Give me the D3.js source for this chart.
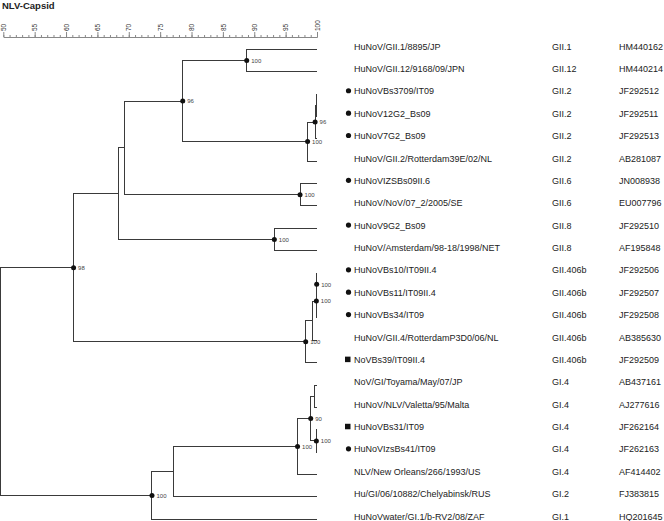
<!DOCTYPE html>
<html>
<head>
<meta charset="utf-8">
<script src="https://cdn.jsdelivr.net/npm/d3@7"></script>
<style>
  html, body { margin: 0; padding: 0; background: #fff; }
  svg { display: block; font-family: "Liberation Sans", Arial, Helvetica, sans-serif; }
</style>
</head>
<body>
<svg id="chart" width="664" height="521"></svg>
<script>
// ---------- data ----------
const title = "NLV-Capsid";
const scaleTicks = [50, 55, 60, 65, 70, 75, 80, 85, 90, 95, 100];

const leafNames = [
  "HuNoV/GII.1/8895/JP", "HuNoV/GII.12/9168/09/JPN", "HuNoVBs3709/IT09", "HuNoV12G2_Bs09",
  "HuNoV7G2_Bs09", "HuNoV/GII.2/Rotterdam39E/02/NL", "HuNoVIZSBs09II.6", "HuNoV/NoV/07_2/2005/SE",
  "HuNoV9G2_Bs09", "HuNoV/Amsterdam/98-18/1998/NET", "HuNoVBs10/IT09II.4", "HuNoVBs11/IT09II.4",
  "HuNoVBs34/IT09", "HuNoV/GII.4/RotterdamP3D0/06/NL", "NoVBs39/IT09II.4", "NoV/GI/Toyama/May/07/JP",
  "HuNoV/NLV/Valetta/95/Malta", "HuNoVBs31/IT09", "HuNoVIzsBs41/IT09", "NLV/New Orleans/266/1993/US",
  "Hu/GI/06/10882/Chelyabinsk/RUS", "HuNoVwater/GI.1/b-RV2/08/ZAF"
];
const genotypes = [
  "GII.1", "GII.12", "GII.2", "GII.2", "GII.2", "GII.2", "GII.6", "GII.6", "GII.8", "GII.8",
  "GII.406b", "GII.406b", "GII.406b", "GII.406b", "GII.406b",
  "GI.4", "GI.4", "GI.4", "GI.4", "GI.4", "GI.2", "GI.1"
];
const accessions = [
  "HM440162", "HM440214", "JF292512", "JF292511", "JF292513", "AB281087", "JN008938", "EU007796",
  "JF292510", "AF195848", "JF292506", "JF292507", "JF292508", "AB385630", "JF292509",
  "AB437161", "AJ277616", "JF262164", "JF262163", "AF414402", "FJ383815", "HQ201645"
];
const leafMarkers = [
  "", "", "circle", "circle", "circle", "", "circle", "", "circle", "", "circle", "circle",
  "circle", "", "square", "", "", "square", "circle", "", "", ""
];
const leafParents = [
  "N1", "N1", "D", "D", "N96b", "GII2", "GII6", "GII6", "GII8", "GII8", "E", "E",
  "F", "G", "GII4", "L", "L", "M", "M", "J", "I", "H"
];

// internal nodes of the dendrogram (similarity %, bootstrap support)
const nodeIds      = ["root", "A", "B", "C", "N96", "N1", "GII2", "N96b", "D", "GII6", "GII8",
                      "GII4", "G", "F", "E", "H", "I", "J", "K", "L", "M"];
const nodeParents  = ["", "root", "A", "B", "C", "N96", "N96", "GII2", "N96b", "C", "B",
                      "A", "GII4", "G", "F", "root", "H", "I", "J", "K", "K"];
const nodeSimilarity = [49.6, 61.2, 68.4, 69.3, 78.6, 88.8, 98.5, 99.7, 99.9, 97.3, 93.2,
                        98.2, 99.35, 99.9, 99.95, 73.7, 77.1, 96.9, 99.0, 99.55, 99.9];
const nodeSupport  = [null, 98, null, null, 96, 100, 100, 96, null, 100, 100,
                      100, null, 100, 100, 100, null, 100, 90, null, 100];

// ---------- build hierarchy ----------
const rows = nodeIds.map((id, i) => ({
  id, parent: nodeParents[i] || null, sim: nodeSimilarity[i], support: nodeSupport[i], leaf: false
})).concat(leafNames.map((name, i) => ({
  id: name, parent: leafParents[i], sim: 100, support: null, leaf: true,
  genotype: genotypes[i], accession: accessions[i], marker: leafMarkers[i]
})));

const root = d3.stratify().id(d => d.id).parentId(d => d.parent)(rows);

const svg = d3.select("#chart");
const x = d3.scaleLinear().domain([50, 100]).range([3.3, 317]);
const yLeaf = d3.scalePoint().domain(leafNames).range([49.3, 519.3]);

root.eachAfter(n => {
  if (!n.children) n.y = yLeaf(n.data.id);
  else n.y = (n.children[0].y + n.children[n.children.length - 1].y) / 2;
  n.px = x(n.data.sim);
});

// ---------- title ----------
svg.append("text").attr("x", 2).attr("y", 8.5)
  .attr("font-size", 9.5).attr("font-weight", "bold").attr("fill", "#222")
  .text(title);

// ---------- similarity scale ----------
const axisY = 37;
const minorAxis = svg.append("g").attr("transform", `translate(0,${axisY})`)
  .call(d3.axisTop(x).tickValues(d3.range(50, 101, 1)).tickSize(2).tickSizeOuter(0).tickFormat(""));
minorAxis.select(".domain").attr("stroke", "#888");
minorAxis.selectAll(".tick line").attr("stroke", "#888");

const majorAxis = svg.append("g").attr("transform", `translate(0,${axisY})`)
  .call(d3.axisTop(x).tickValues(scaleTicks).tickSize(5).tickSizeOuter(0));
majorAxis.select(".domain").attr("stroke", "#888");
majorAxis.selectAll(".tick line").attr("stroke", "#888");
majorAxis.selectAll(".tick text")
  .attr("transform", "rotate(-90)")
  .attr("x", 6).attr("y", 2.2).attr("dy", 0)
  .attr("text-anchor", "start")
  .attr("font-size", 6.5).attr("fill", "#333")
  .attr("font-family", "'Liberation Sans', Arial, sans-serif");

// ---------- branches ----------
svg.append("g")
  .attr("fill", "none").attr("stroke", "#3a3a3a").attr("stroke-width", 1)
  .attr("shape-rendering", "crispEdges")
  .selectAll("path")
  .data(root.links())
  .join("path")
  .attr("d", l => `M${l.source.px},${l.source.y}V${l.target.y}H${l.target.px}`);

// ---------- bootstrap nodes ----------
const supported = root.descendants().filter(n => n.data.support != null);
svg.append("g").selectAll("circle")
  .data(supported).join("circle")
  .attr("cx", n => n.px).attr("cy", n => n.y).attr("r", 2.5).attr("fill", "#111");
svg.append("g").selectAll("text")
  .data(supported).join("text")
  .attr("x", n => n.px + 4.5).attr("y", n => n.y + 2.2)
  .attr("font-size", 6).attr("fill", "#444")
  .text(n => n.data.support);

// ---------- leaf labels ----------
const leaves = root.leaves();
const lab = svg.append("g").attr("font-size", 9).attr("fill", "#222");
lab.selectAll("text.name").data(leaves).join("text").attr("class", "name")
  .attr("x", 354).attr("y", n => n.y + 0.3).text(n => n.data.id);
lab.selectAll("text.geno").data(leaves).join("text").attr("class", "geno")
  .attr("x", 552).attr("y", n => n.y + 0.3).text(n => n.data.genotype);
lab.selectAll("text.acc").data(leaves).join("text").attr("class", "acc")
  .attr("x", 619).attr("y", n => n.y + 0.3).text(n => n.data.accession);

const mk = svg.append("g").attr("fill", "#111");
mk.selectAll("circle").data(leaves.filter(n => n.data.marker === "circle")).join("circle")
  .attr("cx", 348.5).attr("cy", n => n.y - 3.3).attr("r", 2.6);
mk.selectAll("rect").data(leaves.filter(n => n.data.marker === "square")).join("rect")
  .attr("x", 345).attr("y", n => n.y - 6).attr("width", 5.5).attr("height", 5.5);
</script>
</body>
</html>
